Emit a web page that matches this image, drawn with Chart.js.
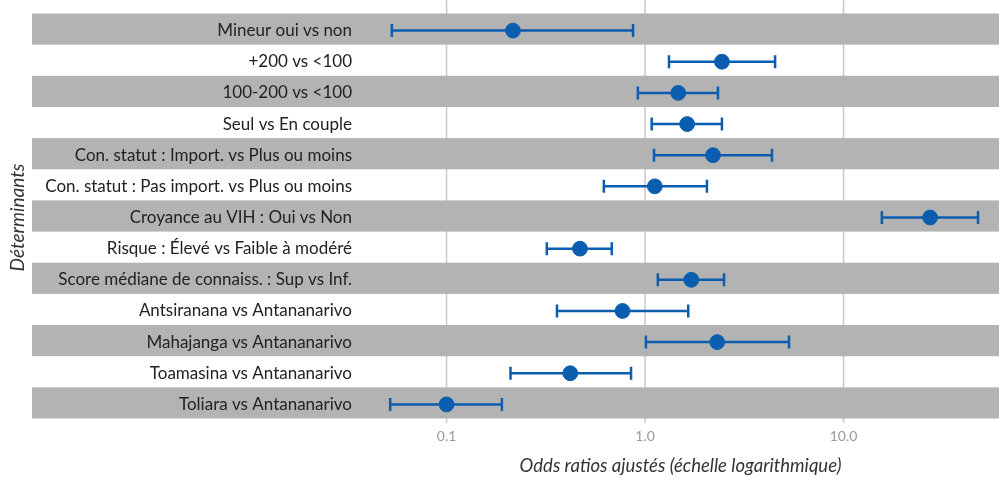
<!DOCTYPE html>
<html>
<head>
<meta charset="utf-8">
<script src="https://cdn.jsdelivr.net/npm/chart.js@4.4.1/dist/chart.umd.min.js"></script>
<style>
  html, body { margin: 0; padding: 0; background: #fff; }
  #wrap { width: 999px; height: 477px; }
</style>
</head>
<body>
<div id="wrap"><canvas id="forestChart"></canvas></div>
<script>
var determinants = [
  'Mineur oui vs non',
  '+200 vs <100',
  '100-200 vs <100',
  'Seul vs En couple',
  'Con. statut : Import. vs Plus ou moins',
  'Con. statut : Pas import. vs Plus ou moins',
  'Croyance au VIH : Oui vs Non',
  'Risque : Élevé vs Faible à modéré',
  'Score médiane de connaiss. : Sup vs Inf.',
  'Antsiranana vs Antananarivo',
  'Mahajanga vs Antananarivo',
  'Toamasina vs Antananarivo',
  'Toliara vs Antananarivo'
];
var oddsRatios = [0.216, 2.44, 1.47, 1.63, 2.20, 1.12, 27.3, 0.47, 1.71, 0.77, 2.31, 0.42, 0.10];
var lowerCI    = [0.053, 1.32, 0.92, 1.08, 1.11, 0.62, 15.6, 0.32, 1.16, 0.36, 1.01, 0.21, 0.052];
var upperCI    = [0.87, 4.52, 2.33, 2.44, 4.36, 2.05, 47.6, 0.68, 2.50, 1.65, 5.31, 0.85, 0.19];
var xTicks = [0.1, 1, 10];
var xTickLabels = ['0.1', '1.0', '10.0'];

var blue = '#0b5db0';

var forestPlugin = {
  id: 'forest',
  beforeDraw: function(chart) {
    var ctx = chart.ctx, x = chart.scales.x, y = chart.scales.y, area = chart.chartArea;
    ctx.save();
    // grille verticale (sous les bandes)
    ctx.strokeStyle = '#c8c8c8';
    ctx.lineWidth = 1.5;
    xTicks.forEach(function(t) {
      var px = x.getPixelForValue(t);
      ctx.beginPath();
      ctx.moveTo(px, 0);
      ctx.lineTo(px, area.bottom + 3);
      ctx.stroke();
    });
    // bandes grises alternées
    var half = (area.bottom - area.top) / determinants.length / 2;
    ctx.fillStyle = '#b3b3b3';
    determinants.forEach(function(d, i) {
      if (i % 2 === 0) {
        var py = y.getPixelForValue(i);
        ctx.fillRect(32, py - half - 1.5, chart.width - 32, half * 2);
      }
    });
    ctx.restore();
  },
  beforeDatasetsDraw: function(chart) {
    var ctx = chart.ctx, x = chart.scales.x, y = chart.scales.y;
    ctx.save();
    ctx.strokeStyle = blue;
    ctx.lineWidth = 2.5;
    determinants.forEach(function(d, i) {
      var py = y.getPixelForValue(i);
      var x1 = x.getPixelForValue(lowerCI[i]);
      var x2 = x.getPixelForValue(upperCI[i]);
      ctx.beginPath();
      ctx.moveTo(x1, py); ctx.lineTo(x2, py);
      ctx.moveTo(x1, py - 6.5); ctx.lineTo(x1, py + 6.5);
      ctx.moveTo(x2, py - 6.5); ctx.lineTo(x2, py + 6.5);
      ctx.stroke();
    });
    ctx.restore();
  }
};

function init() {
  var ctx = document.getElementById('forestChart');
  new Chart(ctx, {
    type: 'scatter',
    data: {
      labels: determinants,
      datasets: [{
        data: determinants.map(function(d, i) { return { x: oddsRatios[i], y: d }; }),
        backgroundColor: blue,
        borderColor: blue,
        pointRadius: 7.4,
        pointHoverRadius: 7.4
      }]
    },
    options: {
      responsive: true,
      maintainAspectRatio: false,
      animation: false,
      layout: { autoPadding: false, padding: { top: 15, right: 0, left: 0, bottom: 0 } },
      plugins: { legend: { display: false }, tooltip: { enabled: false } },
      scales: {
        y: {
          type: 'category',
          labels: determinants,
          offset: true,
          grid: { display: false },
          border: { display: false },
          ticks: { color: '#222', font: { family: 'Lato', size: 17 }, padding: 2 },
          title: { display: true, text: 'Déterminants', color: '#333', padding: { top: 6, bottom: 0 },
                   font: { family: 'Lato', size: 19, style: 'italic' } },
          afterFit: function(scale) { scale.width = 362; }
        },
        x: {
          type: 'logarithmic',
          min: 0.0375,
          max: 60.7,
          grid: { display: false },
          border: { display: false },
          afterBuildTicks: function(axis) {
            axis.ticks = xTicks.map(function(v) { return { value: v }; });
          },
          ticks: {
            color: '#9a9a9a',
            font: { family: 'Lato', size: 14 },
            padding: 0,
            autoSkip: false,
            maxRotation: 0,
            callback: function(value, index) { return xTickLabels[index]; }
          },
          title: { display: true, text: 'Odds ratios ajustés (échelle logarithmique)', color: '#333',
                   padding: { top: 0, bottom: 0 },
                   font: { family: 'Lato', size: 18.5, style: 'italic' } },
          afterFit: function(scale) { scale.height = 57; }
        }
      }
    },
    plugins: [forestPlugin]
  });
}

init();
</script>
</body>
</html>
